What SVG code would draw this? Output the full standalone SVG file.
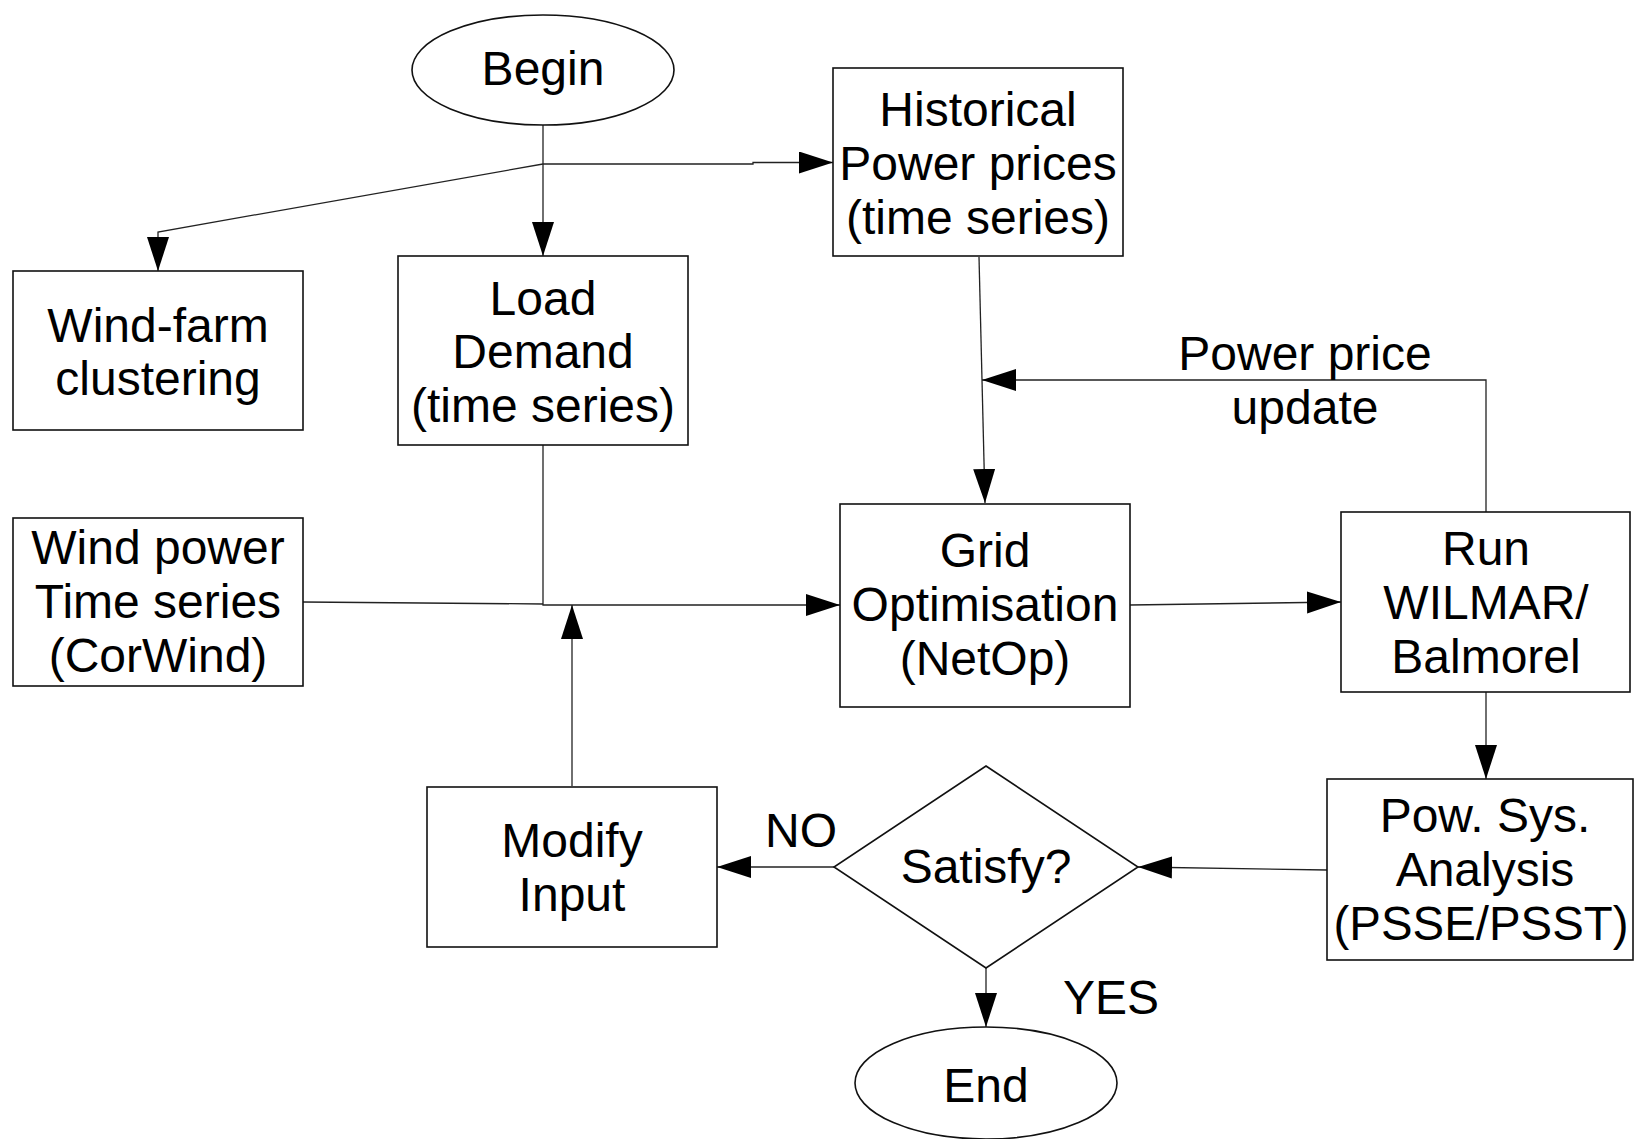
<svg xmlns="http://www.w3.org/2000/svg" width="1634" height="1139" viewBox="0 0 1634 1139">
<style>
.box{fill:#fff;stroke:#111;stroke-width:1.6}
.ln{fill:none;stroke:#222;stroke-width:1.3}
text{font-family:"Liberation Sans",Arial,sans-serif;font-size:48px;fill:#000;text-anchor:middle}
</style>
<defs>
<marker id="ah" markerUnits="userSpaceOnUse" markerWidth="36" markerHeight="24" refX="34" refY="11" orient="auto">
<path d="M0,0 L34,11 L0,22 z" fill="#000"/>
</marker>
</defs>
<rect width="1634" height="1139" fill="#fff"/>
<g id="connectors">
<path class="ln" d="M543,125 L543,256" marker-end="url(#ah)"/>
<path class="ln" d="M543,164 L158,232 L158,271" marker-end="url(#ah)"/>
<path class="ln" d="M543,164 L753,164 L753,162.5 L833,162.5" marker-end="url(#ah)"/>
<path class="ln" d="M979,257 L985,503" marker-end="url(#ah)"/>
<path class="ln" d="M1486,512 L1486,380 L982,380" marker-end="url(#ah)"/>
<path class="ln" d="M303,602 L543,604"/>
<path class="ln" d="M543,445 L543,605 L840,605" marker-end="url(#ah)"/>
<path class="ln" d="M572,786 L572,605" marker-end="url(#ah)"/>
<path class="ln" d="M1130,605 L1341,602" marker-end="url(#ah)"/>
<path class="ln" d="M1486,692 L1486,779" marker-end="url(#ah)"/>
<path class="ln" d="M1327,870 L1138,867" marker-end="url(#ah)"/>
<path class="ln" d="M834,867 L717,867" marker-end="url(#ah)"/>
<path class="ln" d="M986,968 L986,1027" marker-end="url(#ah)"/>
</g>
<g id="begin">
<ellipse class="box" cx="543" cy="70" rx="131" ry="55"/>
<text x="543" y="85">Begin</text>
</g>
<g id="historical">
<rect class="box" x="833" y="68" width="290" height="188"/>
<text x="978" y="126">Historical</text>
<text x="978" y="180">Power prices</text>
<text x="978" y="234">(time series)</text>
</g>
<g id="windfarm">
<rect class="box" x="13" y="271" width="290" height="159"/>
<text x="158" y="342">Wind-farm</text>
<text x="158" y="395">clustering</text>
</g>
<g id="load">
<rect class="box" x="398" y="256" width="290" height="189"/>
<text x="543" y="315">Load</text>
<text x="543" y="368">Demand</text>
<text x="543" y="422">(time series)</text>
</g>
<g id="windpower">
<rect class="box" x="13" y="518" width="290" height="168"/>
<text x="158" y="564">Wind power</text>
<text x="158" y="618">Time series</text>
<text x="158" y="672">(CorWind)</text>
</g>
<g id="grid">
<rect class="box" x="840" y="504" width="290" height="203"/>
<text x="985" y="567">Grid</text>
<text x="985" y="621">Optimisation</text>
<text x="985" y="675">(NetOp)</text>
</g>
<g id="wilmar">
<rect class="box" x="1341" y="512" width="289" height="180"/>
<text x="1486" y="565">Run</text>
<text x="1486" y="619">WILMAR/</text>
<text x="1486" y="673">Balmorel</text>
</g>
<g id="powsys">
<rect class="box" x="1327" y="779" width="306" height="181"/>
<text x="1485" y="832">Pow. Sys.</text>
<text x="1485" y="886">Analysis</text>
<text x="1481" y="940" textLength="295" lengthAdjust="spacingAndGlyphs">(PSSE/PSST)</text>
</g>
<g id="modify">
<rect class="box" x="427" y="787" width="290" height="160"/>
<text x="572" y="857">Modify</text>
<text x="572" y="911">Input</text>
</g>
<g id="satisfy">
<polygon class="box" points="986,766 1138,867 986,968 834,867"/>
<text x="986" y="883">Satisfy?</text>
</g>
<g id="end">
<ellipse class="box" cx="986" cy="1083" rx="131" ry="56"/>
<text x="986" y="1102">End</text>
</g>
<g id="labels">
<text x="1305" y="370">Power price</text>
<text x="1305" y="424">update</text>
<text x="801" y="847">NO</text>
<text x="1111" y="1014">YES</text>
</g>
</svg>
